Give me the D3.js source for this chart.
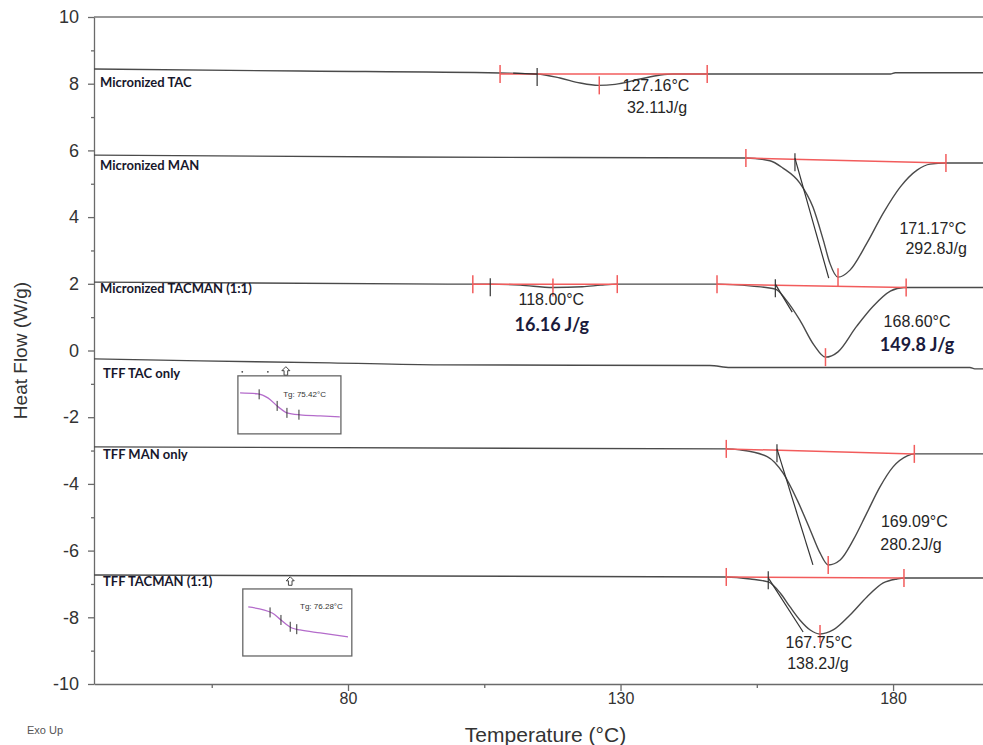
<!DOCTYPE html>
<html>
<head>
<meta charset="utf-8">
<script src="https://cdn.jsdelivr.net/npm/d3@7"></script>
<style>
    body { margin: 0; background: #fff; }
    svg { display: block; font-family: "Liberation Sans", Arial, sans-serif; }
    .axis path, .axis line { stroke: #6a6a6a; stroke-width: 1.3; }
    .axis text { fill: #333; font-family: "Liberation Sans", Arial, sans-serif; }
    .trace { fill: none; stroke: #4a4a4a; stroke-width: 1.4; }
    .integ { stroke: #f25c5c; stroke-width: 1.5; }
    .black-mark { stroke: #333; stroke-width: 1.2; }
    .name { font-family: Lato, "Open Sans", sans-serif; font-weight: bold; font-size: 13px; fill: #17172c; }
    .note { font-size: 16px; fill: #262626; }
    .note-bold { font-family: Lato, sans-serif; font-weight: bold; font-size: 18px; fill: #1b1b3c; }
    .inset-box { fill: #fff; stroke: #666; stroke-width: 1.3; }
    .inset-line { fill: none; stroke: #b46ccb; stroke-width: 1.3; }
</style>
</head>
<body>
<svg id="chart" width="983" height="745"></svg>
<script>
// ---- data (temperature °C, heat flow W/g) ----
const tempTicks = [80, 130, 180];
const tempMinorTicks = [55, 105, 155];
const flowTicks = [10, 8, 6, 4, 2, 0, -2, -4, -6, -8, -10];
const flowMinorTicks = [9, 7, 5, 3, 1, -1, -3, -5, -7, -9];

const tacMicro = [[33.4, 8.44], [71.2, 8.38], [107.9, 8.32], [114.7, 8.29], [118.9, 8.17], [122.6, 8.02],
    [125.9, 7.95], [129.0, 7.98], [133.6, 8.14], [137.3, 8.26], [139.6, 8.29], [145.9, 8.29], [179.5, 8.29],
    [180.4, 8.33], [196.5, 8.33]];
const manMicro = [[33.4, 5.86], [89.5, 5.80], [153.0, 5.77], [157.4, 5.69], [159.8, 5.47], [162.9, 5.02],
    [165.3, 4.30], [167.2, 3.31], [168.4, 2.62], [169.9, 2.20], [172.1, 2.41], [175.2, 3.22], [178.2, 4.12],
    [181.3, 4.90], [184.4, 5.41], [186.8, 5.59], [189.7, 5.62], [196.5, 5.62]];
const tacmanMicro = [[33.4, 2.05], [102.9, 1.99], [106.1, 1.99], [111.6, 1.96], [117.6, 1.89], [123.0, 1.91],
    [126.4, 1.96], [129.4, 1.99], [147.7, 1.99], [154.1, 1.93], [158.4, 1.84], [160.4, 1.51], [162.9, 0.91],
    [165.5, 0.16], [167.6, -0.20], [169.9, -0.04], [173.2, 0.70], [176.3, 1.32], [179.5, 1.78], [182.0, 1.89],
    [196.5, 1.89]];
const tacTff = [[33.4, -0.25], [52.9, -0.31], [76.7, -0.37], [96.9, -0.43], [146.4, -0.45], [150.1, -0.51],
    [194.1, -0.51], [195.0, -0.55], [196.5, -0.55]];
const manTff = [[33.4, -2.89], [149.4, -2.95], [151.9, -2.98], [156.9, -3.18], [159.8, -3.67], [162.4, -4.48],
    [164.8, -5.38], [166.6, -6.07], [168.1, -6.43], [170.3, -6.28], [172.7, -5.68], [175.2, -4.87],
    [177.6, -4.09], [180.0, -3.49], [182.6, -3.16], [183.9, -3.10], [196.5, -3.10]];
const tacmanTff = [[33.4, -6.73], [149.4, -6.79], [153.8, -6.85], [157.1, -6.94], [159.3, -7.27],
    [161.1, -7.69], [162.9, -8.08], [164.8, -8.38], [166.6, -8.50], [169.0, -8.38], [172.1, -7.93],
    [175.2, -7.39], [178.2, -6.97], [180.7, -6.85], [182.0, -6.82], [196.5, -6.82]];
const traces = [tacMicro, manMicro, tacmanMicro, tacTff, manTff, tacmanTff];

// [name, T, flow]
const traceNames = [
    ['Micronized TAC', 34.5, 7.99],
    ['Micronized MAN', 34.5, 5.50],
    ['Micronized TACMAN (1:1)', 34.5, 1.81],
    ['TFF TAC only', 35.05, -0.73],
    ['TFF MAN only', 35.05, -3.16],
    ['TFF TACMAN (1:1)', 35.05, -6.97],
];

// integration: [startT, startFlow, endT, endFlow, peakT, peakFlow, onsetT]
const integrations = [
    [107.9, 8.29, 145.9, 8.29, 126.1, 7.95, 114.7],
    [153.0, 5.77, 189.7, 5.62, 169.9, 2.20, 162.0],
    [102.9, 1.99, 129.4, 1.99, 117.6, 1.89, 106.1],
    [147.7, 1.99, 182.4, 1.89, 167.6, -0.20, 158.4],
    [149.4, -2.95, 183.9, -3.10, 168.1, -6.43, 158.7],
    [149.4, -6.79, 182.0, -6.82, 166.6, -8.50, 157.1],
];
// onset tangents: [T1, flow1, T2, flow2]
const tangents = [
    [110.3, 8.32, 114.7, 8.29],
    [162.0, 5.77, 168.2, 2.17],
    [158.4, 1.99, 161.5, 1.15],
    [158.7, -2.95, 165.3, -6.43],
    [157.1, -6.82, 163.5, -8.44],
];

// [text, T, flow, bold]
const notes = [
    ['127.16°C', 136.5, 7.90, false], ['32.11J/g', 136.7, 7.24, false],
    ['171.17°C', 187.3, 3.61, false], ['292.8J/g', 187.9, 3.01, false],
    ['118.00°C', 117.3, 1.48, false], ['16.16 J/g', 117.4, 0.73, true],
    ['168.60°C', 184.4, 0.82, false], ['149.8 J/g', 184.4, 0.13, true],
    ['169.09°C', 183.9, -5.17, false], ['280.2J/g', 183.3, -5.86, false],
    ['167.75°C', 166.4, -8.80, false], ['138.2J/g', 166.2, -9.43, false],
];

// glass transition insets
const insets = [
    {box: [59.8, -0.76, 78.7, -2.50], label: 'Tg: 75.42°C', labelAt: [68.1, -1.33], arrow: [68.6, -0.62],
     dots: [[60.6, -0.64], [65.3, -0.64]],
     line: [[60.2, -1.27], [63.5, -1.30], [65.3, -1.42], [67.2, -1.69], [68.8, -1.87], [71.2, -1.93],
            [74.9, -1.96], [78.5, -1.99]],
     ticks: [63.7, 67.0, 68.8, 71.0]},
    {box: [60.7, -7.15, 80.7, -9.16], label: 'Tg: 76.28°C', labelAt: [71.2, -7.69], arrow: [69.4, -6.92],
     dots: [],
     line: [[61.7, -7.69], [66.1, -7.87], [67.7, -8.08], [69.7, -8.32], [71.2, -8.38], [74.9, -8.47],
            [80.0, -8.59]],
     ticks: [65.7, 67.7, 69.4, 70.6]},
];

// ---- chart ----
const svg = d3.select('#chart');
const margin = {left: 94, right: 983, top: 17, bottom: 684};

const x = d3.scaleLinear().domain([33.4, 196.5]).range([margin.left, margin.right]);
const y = d3.scaleLinear().domain([-10, 10]).range([margin.bottom, margin.top]);

// frame top line
svg.append('line')
    .attr('x1', margin.left).attr('x2', margin.right)
    .attr('y1', y(10)).attr('y2', y(10))
    .attr('stroke', '#777').attr('stroke-width', 1.3);

const yAxis = svg.append('g')
    .attr('class', 'axis')
    .attr('transform', 'translate(' + margin.left + ',0)')
    .call(d3.axisLeft(y).tickValues(flowTicks).tickSize(6).tickSizeOuter(0).tickPadding(9)
        .tickFormat(d => String(d)));
yAxis.selectAll('text').style('font-size', '18px');
svg.append('g')
    .attr('class', 'axis')
    .attr('transform', 'translate(' + margin.left + ',0)')
    .call(d3.axisLeft(y).tickValues(flowMinorTicks).tickSize(3).tickSizeOuter(0).tickFormat(''))
    .select('.domain').remove();

const xAxis = svg.append('g')
    .attr('class', 'axis')
    .attr('transform', 'translate(0,' + margin.bottom + ')')
    .call(d3.axisBottom(x).tickValues(tempTicks).tickSize(7).tickSizeOuter(0).tickPadding(2));
xAxis.selectAll('text').style('font-size', '16px');
svg.append('g')
    .attr('class', 'axis')
    .attr('transform', 'translate(0,' + margin.bottom + ')')
    .call(d3.axisBottom(x).tickValues(tempMinorTicks).tickSize(4).tickSizeOuter(0).tickFormat(''))
    .select('.domain').remove();

svg.append('text')
    .attr('x', (margin.left + margin.right) / 2 + 7).attr('y', 742)
    .attr('text-anchor', 'middle')
    .style('font-size', '21px').style('fill', '#333')
    .text('Temperature (°C)');
svg.append('text')
    .attr('transform', 'translate(27,' + y(0) + ') rotate(-90)')
    .attr('text-anchor', 'middle')
    .style('font-size', '19px').style('fill', '#333')
    .text('Heat Flow (W/g)');
svg.append('text')
    .attr('x', 27).attr('y', 734)
    .style('font-size', '11px').style('fill', '#555')
    .text('Exo Up');

// traces
const line = d3.line()
    .x(d => x(d[0]))
    .y(d => y(d[1]))
    .curve(d3.curveMonotoneX);

svg.append('g').selectAll('path')
    .data(traces)
    .enter().append('path')
    .attr('class', 'trace')
    .attr('d', line);

// integration baselines + markers
const integ = svg.append('g');
integrations.forEach(r => {
    integ.append('line').attr('class', 'integ')
        .attr('x1', x(r[0])).attr('y1', y(r[1]))
        .attr('x2', x(r[2])).attr('y2', y(r[3]));
    [[r[0], r[1]], [r[2], r[3]], [r[4], r[5]]].forEach(p => {
        integ.append('line').attr('class', 'integ')
            .attr('x1', x(p[0])).attr('x2', x(p[0]))
            .attr('y1', y(p[1]) - 9).attr('y2', y(p[1]) + 9);
    });
    const base = r[1] + (r[3] - r[1]) * (r[6] - r[0]) / (r[2] - r[0]);
    integ.append('line').attr('class', 'black-mark')
        .attr('x1', x(r[6])).attr('x2', x(r[6]))
        .attr('y1', y(base) - 6).attr('y2', y(base) + 12);
});
svg.append('g').selectAll('line')
    .data(tangents)
    .enter().append('line')
    .attr('class', 'black-mark')
    .attr('x1', d => x(d[0])).attr('y1', d => y(d[1]))
    .attr('x2', d => x(d[2])).attr('y2', d => y(d[3]));

// trace names
svg.append('g').selectAll('text')
    .data(traceNames)
    .enter().append('text')
    .attr('class', 'name')
    .attr('x', d => x(d[1])).attr('y', d => y(d[2]))
    .attr('dominant-baseline', 'middle')
    .text(d => d[0]);

// peak notes
svg.append('g').selectAll('text')
    .data(notes)
    .enter().append('text')
    .attr('class', d => d[3] ? 'note-bold' : 'note')
    .attr('x', d => x(d[1])).attr('y', d => y(d[2]))
    .attr('text-anchor', 'middle')
    .attr('dominant-baseline', 'middle')
    .text(d => d[0]);

// insets
insets.forEach(ins => {
    const g = svg.append('g');
    g.append('rect').attr('class', 'inset-box')
        .attr('x', x(ins.box[0])).attr('y', y(ins.box[1]))
        .attr('width', x(ins.box[2]) - x(ins.box[0]))
        .attr('height', y(ins.box[3]) - y(ins.box[1]));
    g.append('path').attr('class', 'inset-line')
        .datum(ins.line)
        .attr('d', line);
    const interp = t => {
        const pts = ins.line;
        for (let i = 1; i < pts.length; i++) {
            if (t <= pts[i][0]) {
                const f = (t - pts[i - 1][0]) / (pts[i][0] - pts[i - 1][0]);
                return pts[i - 1][1] + f * (pts[i][1] - pts[i - 1][1]);
            }
        }
        return pts[pts.length - 1][1];
    };
    ins.ticks.forEach(t => {
        g.append('line')
            .attr('stroke', '#333').attr('stroke-width', 1)
            .attr('x1', x(t)).attr('x2', x(t))
            .attr('y1', y(interp(t)) - 5).attr('y2', y(interp(t)) + 5);
    });
    g.append('text')
        .attr('x', x(ins.labelAt[0])).attr('y', y(ins.labelAt[1]))
        .attr('dominant-baseline', 'middle')
        .style('font-family', '"Liberation Sans", sans-serif')
        .style('font-size', '8px').style('fill', '#333')
        .text(ins.label);
    // small open up-arrow marker
    g.append('path')
        .attr('transform', 'translate(' + x(ins.arrow[0]) + ',' + y(ins.arrow[1]) + ')')
        .attr('d', 'M0,-4.5 L4,-0.5 L1.8,-0.5 L1.8,4 L-1.8,4 L-1.8,-0.5 L-4,-0.5 Z')
        .attr('fill', '#fff').attr('stroke', '#444').attr('stroke-width', 1);
    ins.dots.forEach(d => {
        g.append('circle')
            .attr('cx', x(d[0])).attr('cy', y(d[1]))
            .attr('r', 0.9).attr('fill', '#444');
    });
});
</script>
</body>
</html>
